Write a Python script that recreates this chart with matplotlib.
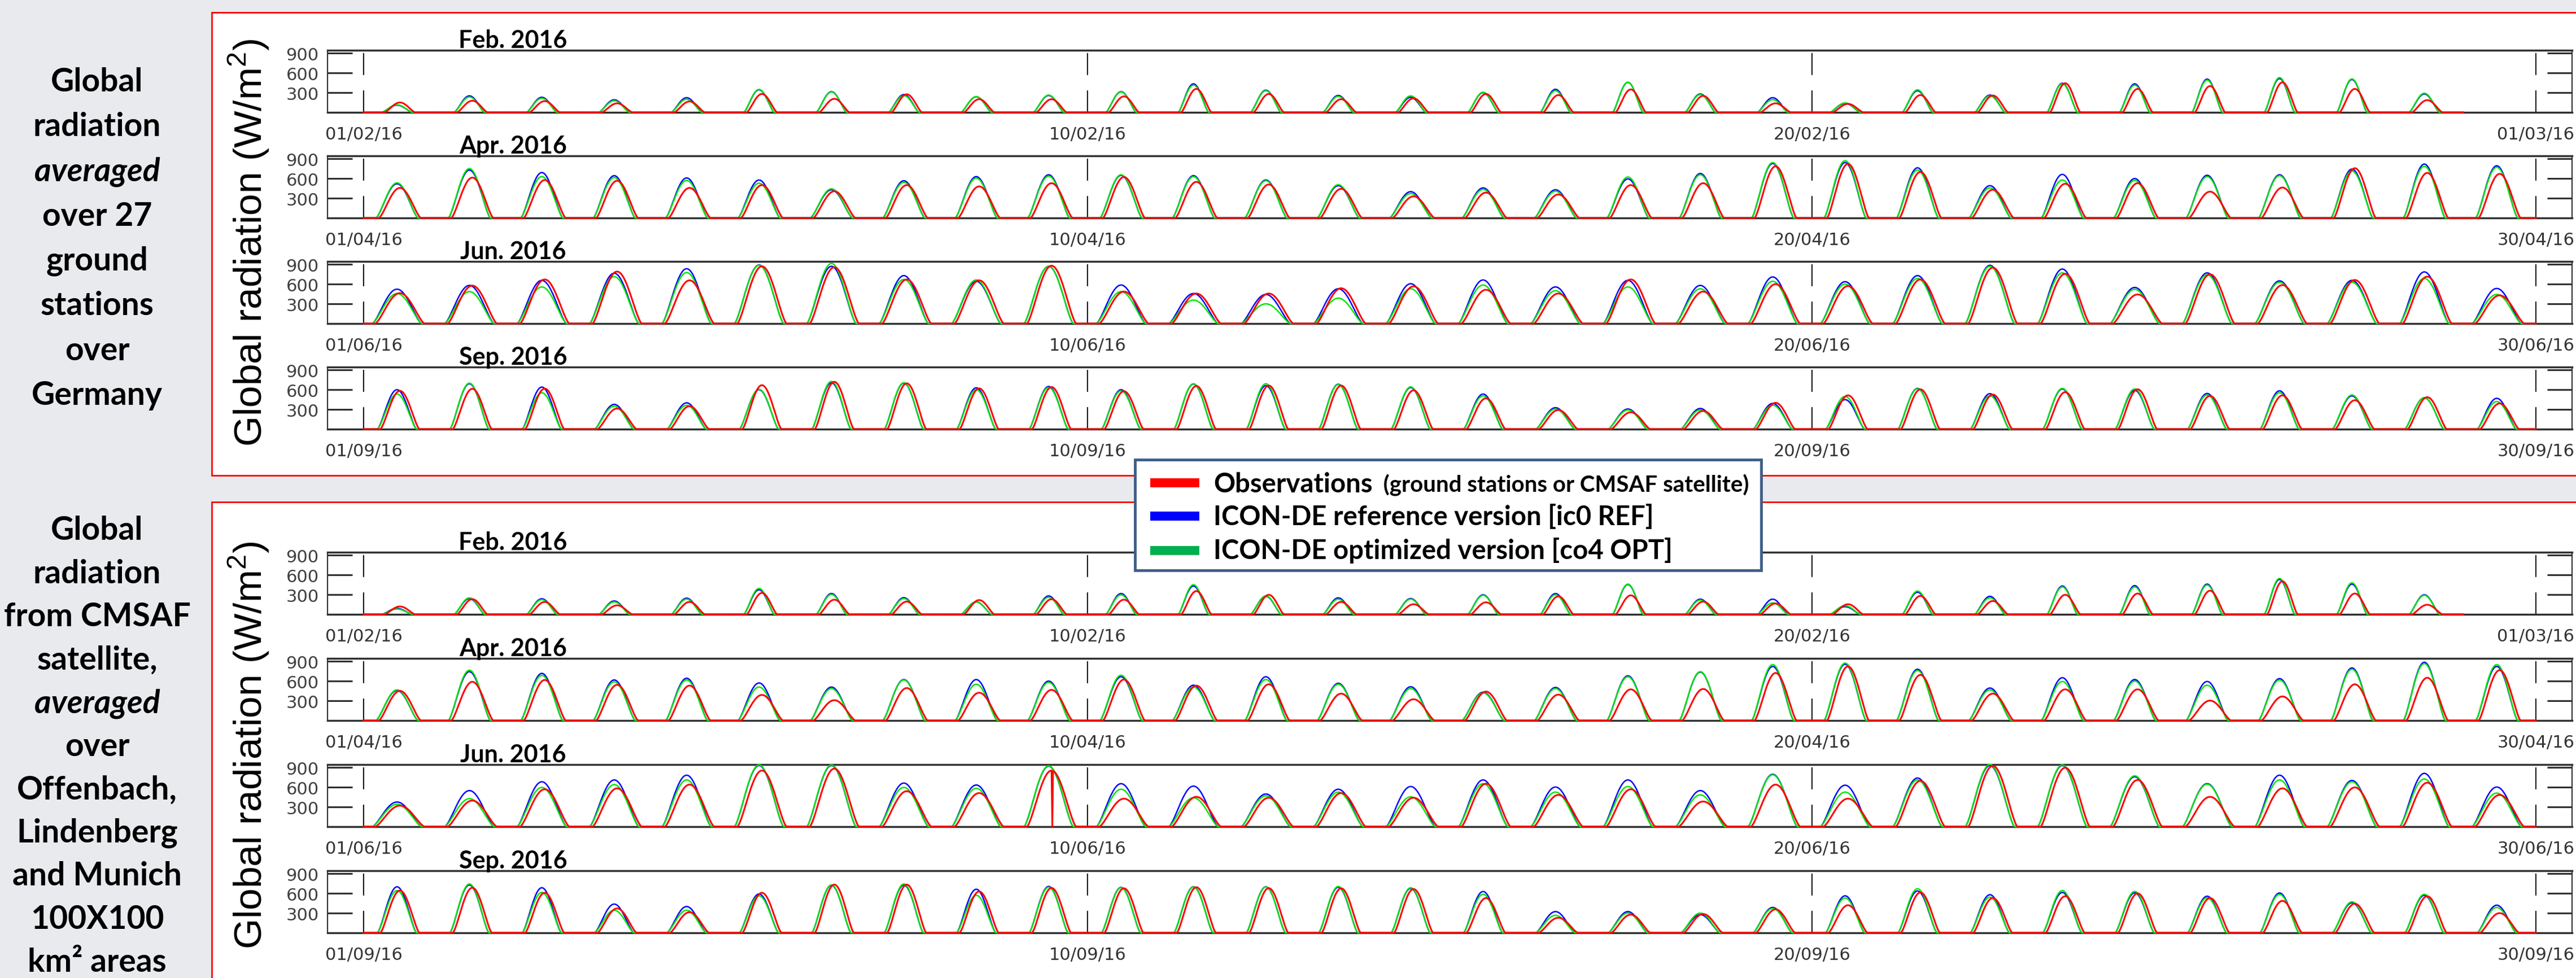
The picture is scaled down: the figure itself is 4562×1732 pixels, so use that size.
import numpy as np
import matplotlib.pyplot as plt
from matplotlib.patches import Rectangle
from matplotlib import transforms

W, H = 4562, 1733

months = ['Feb. 2016', 'Apr. 2016', 'Jun. 2016', 'Sep. 2016']
date_labels = [
    ['01/02/16', '10/02/16', '20/02/16', '01/03/16'],
    ['01/04/16', '10/04/16', '20/04/16', '30/04/16'],
    ['01/06/16', '10/06/16', '20/06/16', '30/06/16'],
    ['01/09/16', '10/09/16', '20/09/16', '30/09/16'],
]
date_pos = [0, 10, 20, 30]
day_length = [0.42, 0.58, 0.68, 0.54]   # daylight fraction of a day per month

# daily peak of global radiation (W/m2), upper panel: 27 ground stations
st_obs_feb = [150, 177, 171, 137, 166, 280, 206, 275, 200, 200, 243, 357, 280, 200, 214, 280, 263, 349, 251, 137, 129, 263, 257, 443, 357, 400, 457, 357, 186]
st_ref_feb = [110, 251, 229, 191, 223, 343, 314, 270, 237, 257, 314, 434, 337, 257, 229, 300, 351, 457, 280, 223, 137, 329, 263, 443, 434, 506, 514, 500, 280]
st_opt_feb = [115, 234, 214, 177, 200, 349, 309, 255, 240, 263, 309, 414, 329, 243, 251, 306, 329, 457, 271, 194, 143, 343, 251, 434, 414, 491, 529, 509, 291]

st_obs_apr = [457, 614, 577, 566, 457, 500, 406, 500, 480, 529, 623, 549, 509, 443, 329, 386, 357, 500, 529, 786, 823, 700, 429, 520, 529, 400, 463, 757, 686, 671]
st_ref_apr = [520, 729, 691, 643, 609, 577, 429, 566, 629, 657, 649, 643, 577, 491, 400, 457, 429, 594, 677, 829, 843, 763, 491, 663, 600, 649, 657, 743, 820, 794]
st_opt_apr = [534, 751, 629, 614, 571, 529, 443, 543, 606, 637, 657, 629, 566, 506, 371, 434, 406, 623, 657, 843, 871, 729, 457, 577, 571, 629, 643, 714, 786, 771]

st_obs_jun = [463, 577, 671, 791, 657, 871, 857, 671, 657, 880, 486, 457, 457, 537, 566, 514, 457, 671, 486, 600, 571, 671, 851, 757, 443, 749, 586, 663, 714, 429]
st_ref_jun = [523, 580, 657, 766, 834, 891, 871, 729, 643, 871, 586, 457, 443, 529, 606, 663, 557, 657, 580, 709, 637, 729, 886, 829, 549, 771, 649, 657, 786, 534]
st_opt_jun = [457, 486, 557, 714, 777, 886, 914, 671, 663, 871, 486, 357, 300, 386, 529, 586, 500, 557, 529, 643, 600, 686, 871, 771, 520, 743, 629, 629, 686, 443]

st_obs_sep = [583, 614, 617, 314, 349, 669, 720, 697, 620, 640, 577, 657, 663, 663, 591, 469, 291, 257, 277, 400, 514, 606, 526, 563, 606, 506, 514, 440, 486, 391]
st_ref_sep = [600, 691, 640, 377, 400, 600, 706, 700, 629, 649, 600, 686, 663, 683, 634, 534, 326, 306, 314, 391, 449, 620, 540, 611, 591, 543, 583, 506, 477, 469]
st_opt_sep = [534, 700, 554, 349, 363, 606, 726, 706, 600, 634, 583, 691, 691, 677, 643, 506, 306, 291, 291, 363, 497, 614, 506, 620, 611, 520, 554, 520, 477, 420]

# lower panel: CMSAF satellite, Offenbach / Lindenberg / Munich areas
sat_obs_feb = [120, 231, 189, 137, 189, 326, 223, 194, 217, 231, 223, 354, 297, 189, 154, 183, 274, 289, 194, 166, 154, 280, 203, 297, 317, 360, 503, 317, 146]
sat_ref_feb = [90, 240, 237, 203, 246, 374, 317, 254, 189, 280, 317, 431, 274, 251, 240, 297, 317, 454, 231, 231, 117, 337, 274, 431, 437, 460, 531, 460, 297]
sat_opt_feb = [80, 251, 223, 189, 231, 394, 303, 240, 189, 260, 297, 451, 280, 231, 231, 289, 297, 460, 217, 174, 131, 354, 251, 417, 417, 446, 546, 480, 289]

sat_obs_apr = [451, 589, 617, 543, 531, 389, 309, 494, 423, 466, 623, 531, 551, 409, 323, 440, 394, 474, 480, 723, 823, 694, 409, 474, 474, 303, 366, 551, 651, 766]
sat_ref_apr = [457, 743, 717, 617, 643, 571, 509, 623, 623, 600, 666, 537, 666, 566, 514, 430, 503, 680, 737, 823, 857, 780, 494, 651, 623, 594, 637, 800, 886, 823]
sat_opt_apr = [466, 766, 686, 589, 617, 509, 486, 617, 551, 580, 689, 509, 623, 551, 486, 420, 486, 666, 743, 851, 874, 760, 466, 594, 600, 537, 617, 780, 866, 851]

sat_obs_jun = [320, 397, 569, 583, 640, 854, 883, 540, 511, 854, 426, 454, 440, 511, 440, 654, 483, 569, 383, 640, 426, 697, 926, 897, 711, 454, 583, 597, 669, 483]
sat_ref_jun = [375, 549, 683, 711, 783, 931, 931, 663, 634, 920, 654, 617, 497, 569, 611, 711, 603, 711, 549, 797, 631, 740, 931, 931, 760, 654, 783, 703, 811, 603]
sat_opt_jun = [340, 426, 597, 640, 711, 940, 940, 597, 583, 926, 569, 440, 469, 526, 454, 654, 526, 611, 483, 789, 526, 711, 946, 940, 774, 646, 711, 683, 726, 511]
sat_obs_jun_dropout = [9]   # day with a missing satellite value around noon

sat_obs_sep = [643, 686, 609, 371, 314, 609, 734, 734, 629, 683, 677, 694, 680, 677, 666, 529, 229, 277, 286, 357, 420, 614, 529, 557, 600, 529, 486, 443, 557, 300]
sat_ref_sep = [700, 729, 686, 437, 400, 591, 723, 729, 663, 706, 691, 700, 700, 694, 677, 629, 323, 323, 277, 386, 563, 637, 580, 614, 609, 557, 606, 457, 571, 420]
sat_opt_sep = [643, 743, 614, 343, 343, 563, 729, 743, 571, 694, 686, 697, 697, 706, 686, 586, 266, 300, 300, 371, 529, 671, 543, 643, 629, 534, 586, 471, 586, 386]

panels = [
    [(st_obs_feb, st_ref_feb, st_opt_feb, []), (st_obs_apr, st_ref_apr, st_opt_apr, []),
     (st_obs_jun, st_ref_jun, st_opt_jun, []), (st_obs_sep, st_ref_sep, st_opt_sep, [])],
    [(sat_obs_feb, sat_ref_feb, sat_opt_feb, []), (sat_obs_apr, sat_ref_apr, sat_opt_apr, []),
     (sat_obs_jun, sat_ref_jun, sat_opt_jun, sat_obs_jun_dropout), (sat_obs_sep, sat_ref_sep, sat_opt_sep, [])],
]

RED, BLUE, GREEN = '#ff0000', '#0000ff', '#00e600'


def diurnal(peaks, daylen, noon, dropout=(), n=96):
    # turn daily peaks into a day/night curve
    ts, vs = [], []
    frac = np.linspace(0, 1, n, endpoint=False)
    for d, pk in enumerate(peaks):
        s = np.clip((frac - (noon - daylen / 2)) / daylen, 0, 1)
        v = pk * np.sin(np.pi * s) ** 1.4
        if d in dropout:
            v[int(noon * n) + 1] = 0
        ts.append(d + frac)
        vs.append(v)
    return np.concatenate(ts + [[len(peaks)]]), np.concatenate(vs + [[0]])


def fx(px):
    return px / W


def fy(py):
    return 1 - py / H


fig = plt.figure(figsize=(W / 100, H / 100), dpi=100)
fig.patch.set_facecolor('#e8eaed')

# red frames around the two panels
fig.add_artist(Rectangle((fx(375), fy(843)), 1, (843 - 23) / H, transform=fig.transFigure,
                         fc='white', ec='red', lw=2, zorder=-1))
fig.add_artist(Rectangle((fx(375), -0.1), 1, fy(890) + 0.1, transform=fig.transFigure,
                         fc='white', ec='red', lw=2, zorder=-1))

row_tops = [[90, 277, 464, 651], [979, 1167, 1355, 1543]]
label_font = 'Lato'

for p in range(2):
    for r in range(4):
        top = row_tops[p][r]
        ax = fig.add_axes([fx(580), fy(top + 110), (4555 - 580) / W, 110 / H])
        ax.set_facecolor('none')
        obs, ref, opt, gaps = panels[p][r]
        t, v = diurnal(ref, day_length[r], 0.46)
        ax.plot(t, v, color=BLUE, lw=1.8, zorder=3, clip_on=False)
        t, v = diurnal(opt, day_length[r], 0.46)
        ax.plot(t, v, color=GREEN, lw=1.8, zorder=3.1, clip_on=False)
        t, v = diurnal(obs, day_length[r], 0.5, gaps)
        ax.plot(t, v, color=RED, lw=2.2, zorder=3.2, clip_on=False)
        for x in date_pos:
            ax.axvline(x, color='black', lw=1.4, dashes=(20, 14), zorder=2)
        ax.set_xlim(-0.5, 30.5)
        ax.set_ylim(0, 945)
        ax.set_yticks([300, 600, 900])
        ax.tick_params(axis='y', direction='in', length=32, width=2.2, color='#303030',
                       labelcolor='#404040', labelsize=22, pad=11, right=True)
        ax.set_xticks(date_pos)
        ax.set_xticklabels(date_labels[r])
        ax.tick_params(axis='x', length=0, pad=17, labelsize=22, labelcolor='#333333')
        for s in ['top', 'bottom']:
            ax.spines[s].set_linewidth(2.5)
            ax.spines[s].set_color('#303030')
        for s in ['left', 'right']:
            ax.spines[s].set_linewidth(1.5)
            ax.spines[s].set_color('#303030')
        trans = transforms.blended_transform_factory(ax.transData, ax.transAxes)
        ax.text(2.06, 1.045, months[r], transform=trans, ha='center', va='baseline',
                fontsize=31, fontweight='bold', family=label_font)

    fig.text(fx(441), fy([430, 1320][p]), 'Global radiation (W/m$^{\\mathregular{2}}$)',
             rotation=90, ha='center', va='center', fontsize=50, family='Liberation Sans')

# left-hand descriptions
left_top = ['Global', 'radiation', 'averaged', 'over 27', 'ground', 'stations', 'over', 'Germany']
left_bottom = ['Global', 'radiation', 'from CMSAF', 'satellite,', 'averaged', 'over',
               'Offenbach,', 'Lindenberg', 'and Munich', '100X100', 'km\u00b2 areas']
for lines, y0, step in [(left_top, 145, 79.4), (left_bottom, 940, 76.5)]:
    for k, line in enumerate(lines):
        fig.text(fx(172), fy(y0 + k * step), line, ha='center', va='center',
                 fontsize=41, fontweight='bold', family=label_font,
                 style='italic' if line == 'averaged' else 'normal')

# legend box
fig.add_artist(Rectangle((fx(2010), fy(1011)), (3119 - 2010) / W, (1011 - 815) / H,
                         transform=fig.transFigure, fc='white', ec='#3f5e88', lw=3.5, zorder=5))
legend_rows = [
    (RED, 856, 872, 'Observations', ' (ground stations or CMSAF satellite)'),
    (BLUE, 915, 930, 'ICON-DE reference version [ic0 REF]', ''),
    ('#00b050', 976, 990, 'ICON-DE optimized version [co4 OPT]', ''),
]
for col, yc, yb, txt, small in legend_rows:
    fig.add_artist(Rectangle((fx(2037), fy(yc + 8)), 87 / W, 16 / H, transform=fig.transFigure,
                             fc=col, ec='none', zorder=6))
    fig.text(fx(2149), fy(yb), txt, ha='left', va='baseline', fontsize=34,
             fontweight='bold', family=label_font, zorder=6)
    if small:
        fig.text(fx(2440), fy(yb), small, ha='left', va='baseline', fontsize=29,
                 fontweight='bold', family=label_font, zorder=6)

fig.savefig('out.png', dpi=100, facecolor=fig.get_facecolor())
